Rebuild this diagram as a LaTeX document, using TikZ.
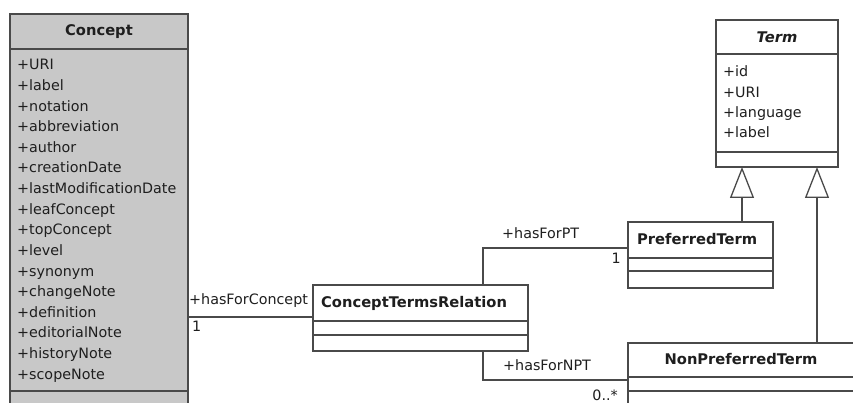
\documentclass[tikz,border=0pt]{standalone}
\usepackage{fontspec}
\setmainfont{DejaVu Sans}
\usetikzlibrary{arrows.meta}
\definecolor{ln}{HTML}{4A4A4A}
\definecolor{tx}{HTML}{1E1E1E}
\definecolor{cfill}{HTML}{C8C8C8}
\tikzset{
  box/.style={draw=ln, line width=1.3pt, anchor=north west, inner sep=0pt, outer sep=0pt},
  hdr/.style={font=\fontsize{14.7}{17}\selectfont\bfseries, text=tx, inner sep=0pt},
  attr/.style={font=\fontsize{14.3}{17}\selectfont, text=tx, anchor=base west, inner sep=0pt},
  lbl/.style={font=\fontsize{14.3}{17}\selectfont, text=tx, inner sep=0pt},
  sep/.style={draw=ln, line width=1.3pt},
  assoc/.style={draw=ln, line width=1.3pt},
  gen/.style={draw=ln, line width=1.3pt, -{Triangle[open, length=31pt, width=24pt, fill=white]}},
}
\begin{document}
\begin{tikzpicture}[x=1pt, y=-1pt]
\useasboundingbox (0,0) rectangle (853,403);
\clip (0,0) rectangle (853,403);
\fill[white] (0,0) rectangle (853,403);
% boxes
\node[box, fill=cfill, minimum width=178pt, minimum height=420pt] (concept) at (10,14) {};
\node[box, fill=white, minimum width=122pt, minimum height=147pt] (term) at (716,20) {};
\node[box, fill=white, minimum width=215pt, minimum height=66pt] (ctr) at (313,285) {};
\node[box, fill=white, minimum width=145pt, minimum height=66pt] (pt) at (628,222) {};
\node[box, fill=white, minimum width=230pt, minimum height=90pt] (npt) at (628,343) {};
% separators
\draw[sep] (10,49) -- (188,49);
\draw[sep] (10,391) -- (188,391);
\draw[sep] (716,54) -- (838,54);
\draw[sep] (716,152) -- (838,152);
\draw[sep] (313,321) -- (528,321);
\draw[sep] (313,335) -- (528,335);
\draw[sep] (628,258) -- (773,258);
\draw[sep] (628,271) -- (773,271);
\draw[sep] (628,377) -- (858,377);
\draw[sep] (628,391) -- (858,391);
% headers
\node[hdr, anchor=base] (conceptH) at (99,36) {Concept};
\node[hdr, anchor=base] (termH) at (777,43) {\itshape Term};
\node[hdr, anchor=base west] (ctrH) at (321,307) {ConceptTermsRelation};
\node[hdr, anchor=base west] (ptH) at (637,244) {PreferredTerm};
\node[hdr, anchor=base] (nptH) at (741,364) {NonPreferredTerm};
% attributes
\foreach \t [count=\i from 0] in {+URI,+label,+notation,+abbreviation,+author,+creationDate,+lastModificationDate,+leafConcept,+topConcept,+level,+synonym,+changeNote,+definition,+editorialNote,+historyNote,+scopeNote}
  \node[attr] (ca\i) at (17,70+20.6*\i) {\t};
\foreach \t [count=\i from 0] in {+id,+URI,+language,+label}
  \node[attr] (ta\i) at (723,77+20.3*\i) {\t};
% connectors
\coordinate (yA) at (0,317);
\coordinate (xA) at (483,0);
\coordinate (yB) at (0,248);
\coordinate (yC) at (0,380);
\coordinate (xD) at (742,0);
\coordinate (xE) at (817,0);
\draw[assoc] (concept.east |- yA) -- (ctr.west |- yA);
\draw[assoc] (ctr.north -| xA) |- (pt.west |- yB);
\draw[assoc] (ctr.south -| xA) |- (npt.west |- yC);
\draw[gen] (pt.north -| xD) -- (term.south -| xD);
\draw[gen] (npt.north -| xE) -- (term.south -| xE);
% labels
\node[lbl, anchor=base west] (l1) at (189,304) {+hasForConcept};
\node[lbl, anchor=base west] (m1) at (192,331) {1};
\node[lbl, anchor=base west] (l2) at (502,239) {+hasForPT};
\node[lbl, anchor=base east] (m2) at (621,263) {1};
\node[lbl, anchor=base west] (l3) at (503,370) {+hasForNPT};
\node[lbl, anchor=base east] (m3) at (618,400) {0..*};
\end{tikzpicture}
\end{document}
